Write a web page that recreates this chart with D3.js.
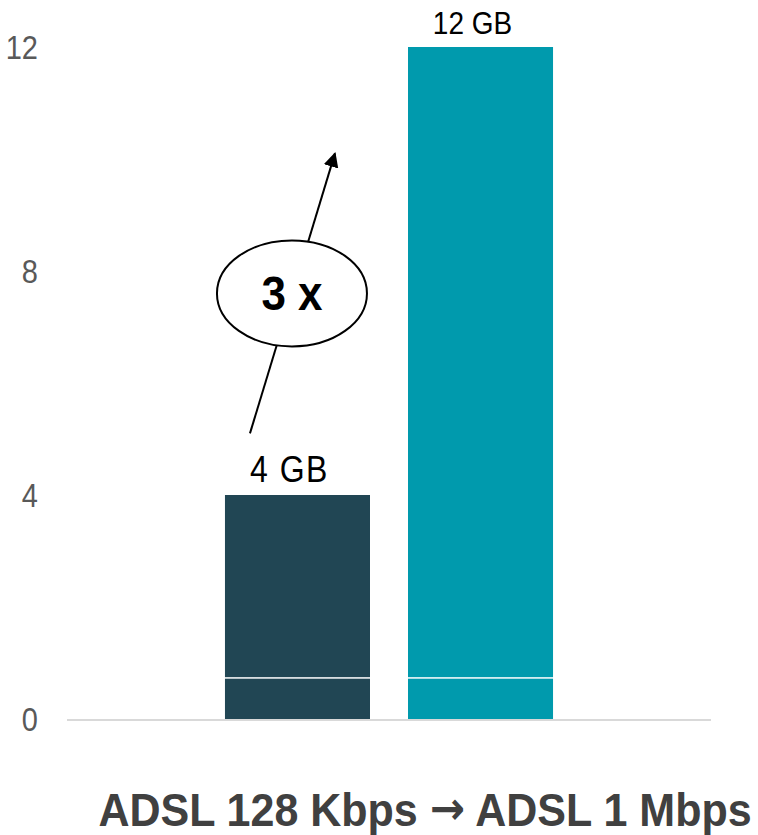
<!DOCTYPE html>
<html>
<head>
<meta charset="utf-8">
<script src="https://cdn.jsdelivr.net/npm/d3@7/dist/d3.min.js"></script>
<style>
  html, body { margin: 0; padding: 0; background: #fff; }
  svg { display: block; }
</style>
</head>
<body>
<svg id="chart" width="758" height="835"></svg>
<script>
// ---- data ----
const series = ["ADSL 128 Kbps", "ADSL 1 Mbps"];
const totals = [4, 12];
const baseSegment = [0.72, 0.72];
const valueLabels = ["4 GB", "12 GB"];
const barColors = ["#214654", "#009aad"];
const yTicks = [0, 4, 8, 12];
const xTitleLeft = "ADSL 128 Kbps ";
const xTitleArrow = "\u2192";
const xTitleRight = " ADSL 1 Mbps";
const multiplierLabel = "3 x";
const arrowFrom = 5.1;   // value level where arrow starts
const arrowTo = 10.1;    // value level where arrow ends

// ---- layout ----
const svg = d3.select("#chart");
const FONT = "Liberation Sans, Arial, sans-serif";
const plotLeft = 67, plotRight = 711;
const y = d3.scaleLinear().domain([0, 12]).range([719, 47]);
const x = d3.scaleBand().domain(series).range([plotLeft, plotRight])
  .paddingInner(0.2077).paddingOuter(0.863);

// y tick labels (no axis line)
const yAxis = d3.axisLeft(y).tickValues(yTicks).tickSize(0).tickPadding(0).tickFormat(d3.format("d"));
const ya = svg.append("g").attr("transform", "translate(38,0)").call(yAxis);
ya.select(".domain").remove();
ya.selectAll(".tick text")
  .attr("x", null).attr("dy", null)
  .attr("font-family", FONT)
  .attr("font-size", 29).attr("fill", "#595959")
  .attr("transform", "translate(0,11) scale(1,1.15)");

// baseline
svg.append("line")
  .attr("x1", plotLeft).attr("x2", plotRight)
  .attr("y1", y(0) + 1).attr("y2", y(0) + 1)
  .attr("stroke", "#d9d9d9").attr("stroke-width", 2);

// bars: bottom segment + upper segment, separated by a thin white gap
const bars = svg.append("g");
series.forEach((s, i) => {
  bars.append("rect")
    .attr("x", x(s)).attr("width", x.bandwidth())
    .attr("y", y(baseSegment[i])).attr("height", y(0) - y(baseSegment[i]))
    .attr("fill", barColors[i]);
  bars.append("rect")
    .attr("x", x(s)).attr("width", x.bandwidth())
    .attr("y", y(totals[i])).attr("height", y(baseSegment[i]) - y(totals[i]) - 1.5)
    .attr("fill", barColors[i]);
});

// value labels
svg.append("g").selectAll("text").data(series).join("text")
  .attr("transform", (d, i) =>
    `translate(${x(d) + x.bandwidth() / 2 - 8},${y(totals[i]) - 13}) scale(1,1.15)`)
  .attr("text-anchor", "middle")
  .attr("font-family", FONT)
  .attr("font-size", (d, i) => i === 0 ? 32 : 28)
  .attr("letter-spacing", (d, i) => i === 0 ? 1.5 : 0)
  .attr("fill", "#000")
  .text((d, i) => valueLabels[i]);

// arrow annotation
const defs = svg.append("defs");
defs.append("marker").attr("id", "ah")
  .attr("viewBox", "0 0 10 10").attr("refX", 9).attr("refY", 5)
  .attr("markerWidth", 7.5).attr("markerHeight", 7.5)
  .attr("markerUnits", "strokeWidth")
  .attr("orient", "auto")
  .append("path").attr("d", "M0,0 L10,5 L0,10 Z").attr("fill", "#000");

const ax1 = x(series[0]) + 25, ax2 = x(series[0]) + 110;
svg.append("line")
  .attr("x1", ax1).attr("y1", y(arrowFrom))
  .attr("x2", ax2).attr("y2", y(arrowTo))
  .attr("stroke", "#000").attr("stroke-width", 2)
  .attr("marker-end", "url(#ah)");

const ecx = x(series[0]) + 67, ecy = y(7.6);
svg.append("ellipse")
  .attr("cx", ecx).attr("cy", ecy).attr("rx", 75).attr("ry", 53)
  .attr("fill", "#fff").attr("stroke", "#000").attr("stroke-width", 2);
svg.append("text")
  .attr("transform", `translate(${ecx},${ecy + 17}) scale(1,1.08)`)
  .attr("text-anchor", "middle")
  .attr("font-family", FONT)
  .attr("font-weight", "bold").attr("font-size", 44)
  .attr("fill", "#000")
  .text(multiplierLabel);

// x title
const xt = svg.append("text")
  .attr("transform", "translate(425,826) scale(1,1.08)")
  .attr("text-anchor", "middle")
  .attr("font-family", FONT)
  .attr("font-weight", "bold").attr("font-size", 43)
  .attr("fill", "#404040");
xt.append("tspan").text(xTitleLeft);
xt.append("tspan").attr("font-family", "DejaVu Sans, sans-serif")
  .attr("font-size", 42).attr("dy", -2).text(xTitleArrow);
xt.append("tspan").attr("dy", 2).text(xTitleRight);
</script>
</body>
</html>
